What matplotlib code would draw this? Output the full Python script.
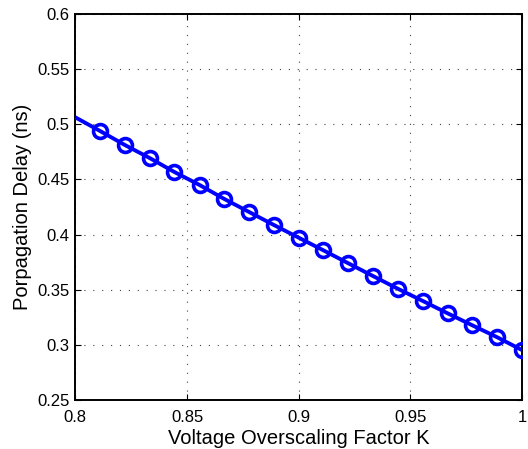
import matplotlib
matplotlib.use("Agg")
import matplotlib.pyplot as plt
import numpy as np

plt.rcParams['font.family'] = ['Liberation Sans', 'DejaVu Sans']

k_values = [0.8, 0.8111, 0.8222, 0.8333, 0.8444, 0.8556, 0.8667, 0.8778, 0.8889,
            0.9, 0.9111, 0.9222, 0.9333, 0.9444, 0.9556, 0.9667, 0.9778, 0.9889, 1.0]
delay_ns = [0.5063, 0.4939, 0.4812, 0.4694, 0.4567, 0.4450, 0.4323, 0.4205, 0.4087,
            0.3972, 0.3857, 0.3740, 0.3624, 0.3509, 0.3398, 0.3286, 0.3177, 0.3069, 0.2953]
x_ticks = [0.8, 0.85, 0.9, 0.95, 1.0]
x_ticklabels = ['0.8', '0.85', '0.9', '0.95', '1']
y_ticks = [0.25, 0.3, 0.35, 0.4, 0.45, 0.5, 0.55, 0.6]
y_ticklabels = ['0.25', '0.3', '0.35', '0.4', '0.45', '0.5', '0.55', '0.6']

fig = plt.figure(figsize=(5.28, 4.49), dpi=100)
ax = fig.add_axes([0.1427, 0.1091, 0.9886 - 0.1427, 0.9688 - 0.1091])

ax.plot(k_values, delay_ns, color='#0000ff', lw=2.8, solid_capstyle='butt', zorder=3)
ax.plot(k_values[1:], delay_ns[1:], linestyle='none', marker='o', markersize=10,
        markerfacecolor='none', markeredgecolor='#0000ff', markeredgewidth=2.6, zorder=4)

ax.set_xlim(0.8, 1.0)
ax.set_ylim(0.25, 0.6)
ax.set_xticks(x_ticks)
ax.set_xticklabels(x_ticklabels)
ax.set_yticks(y_ticks)
ax.set_yticklabels(y_ticklabels)
ax.tick_params(direction='in', top=True, right=True, labelsize=12, length=4, width=0.8)
ax.tick_params(axis='x', pad=7)
ax.tick_params(axis='y', pad=4)
ax.grid(True, linestyle=(0, (1, 7)), color='#444444', linewidth=0.8)
for s in ax.spines.values():
    s.set_linewidth(1.4)

ax.set_xlabel('Voltage Overscaling Factor K', fontsize=14.5, labelpad=3)
ax.set_ylabel('Porpagation Delay (ns)', fontsize=14.5, labelpad=4)

fig.savefig('out.png', dpi=100)
